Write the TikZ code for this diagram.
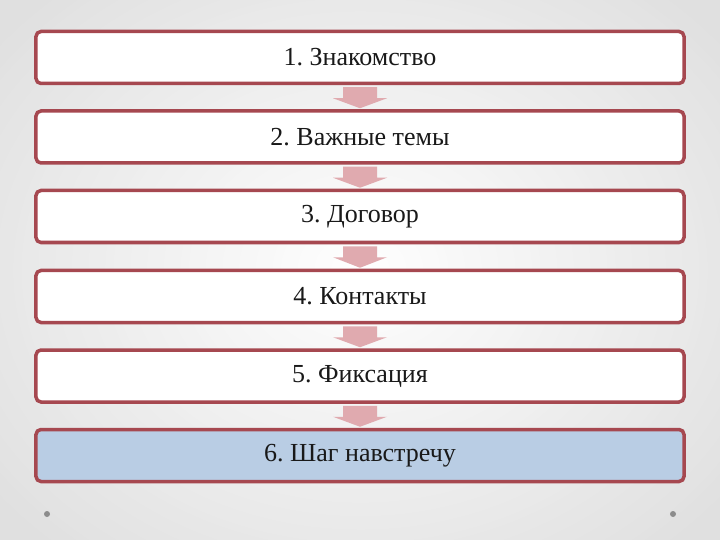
\documentclass[tikz,border=0pt]{standalone}
\usepackage{fontspec}
\setmainfont{Liberation Serif}
\usetikzlibrary{calc}
\frenchspacing
\definecolor{boxborder}{RGB}{166,72,80}
\definecolor{arrowc}{RGB}{224,170,175}
\definecolor{lastfill}{RGB}{185,205,228}
\definecolor{bgedge}{RGB}{200,200,200}
\definecolor{dotc}{RGB}{140,140,140}
\tikzset{
  stagebox/.style={draw=boxborder, line width=3.5bp, rounded corners=5bp, fill=white,
    minimum width=648bp, minimum height=52bp, inner sep=0pt,
    font=\fontsize{26bp}{30bp}\selectfont, text=black!90},
  flowarrow/.style={fill=arrowc, draw=none},
}
\newcommand{\flowarr}[2]{%
  \fill[flowarrow] ($(#1.south)+(-17,2)$) -- ($(#1.south)+(17,2)$) -- ($(#1.south)+(17,13)$)
     -- ($(#1.south)+(27,13)$) -- ($(#2.north)+(0,-1)$) -- ($(#1.south)+(-27,13)$)
     -- ($(#1.south)+(-17,13)$) -- cycle;}
\begin{document}
\begin{tikzpicture}[x=1bp,y=-1bp]
\useasboundingbox (0,0) rectangle (720,540);
\shade[inner color=white, outer color=bgedge] (-100,-100) rectangle (820,640);
\fill[white, opacity=0.45] (0,0) rectangle (720,540);
\node[stagebox] (b1) at (360,57.5) {1. Знакомство};
\node[stagebox] (b2) at (360,137) {2. Важные темы};
\node[stagebox] (b3) at (360,216.5) {3. Договор};
\node[stagebox] (b4) at (360,296.5) {4. Контакты};
\node[stagebox] (b5) at (360,376) {5. Фиксация};
\node[stagebox, fill=lastfill] (b6) at (360,455.5) {6. Шаг навстречу};
\flowarr{b1}{b2}
\flowarr{b2}{b3}
\flowarr{b3}{b4}
\flowarr{b4}{b5}
\flowarr{b5}{b6}
\fill[dotc] (47,514) circle (3bp);
\fill[dotc] (673,514) circle (3bp);
\end{tikzpicture}
\end{document}
